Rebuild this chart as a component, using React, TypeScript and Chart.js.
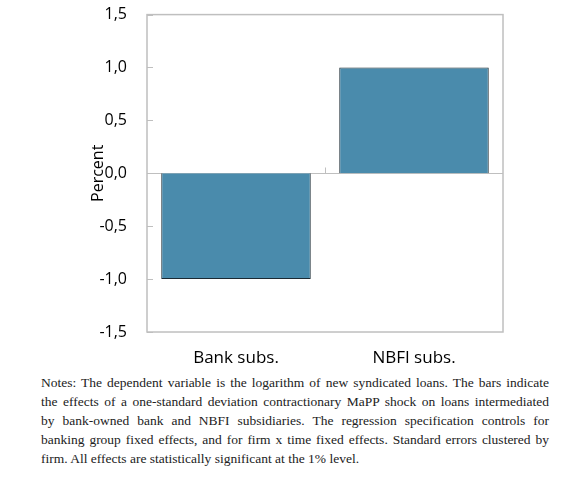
import React, { useEffect, useRef } from "react";
import { Chart, registerables } from "chart.js";

Chart.register(...registerables);

const categories = ["Bank subs.", "NBFI subs."];
const effects = [-1.0, 1.0];
const yTicks = [-1.5, -1.0, -0.5, 0, 0.5, 1.0, 1.5];
const yTitle = "Percent";
const noteLines = [
  "Notes: The dependent variable is the logarithm of new syndicated loans. The bars indicate",
  "the effects of a one-standard deviation contractionary MaPP shock on loans intermediated",
  "by bank-owned bank and NBFI subsidiaries. The regression specification controls for",
  "banking group fixed effects, and for firm x time fixed effects. Standard errors clustered by",
  "firm. All effects are statistically significant at the 1% level.",
];

const GRAY = "#bfbfbf";

const framePlugin = {
  id: "frame",
  beforeDatasetsDraw(chart: any) {
    const { ctx, chartArea, scales } = chart;
    const y = scales.y;
    const x = scales.x;
    ctx.save();
    ctx.strokeStyle = GRAY;
    ctx.lineWidth = 1;
    const y0 = Math.round(y.getPixelForValue(0)) + 0.5;
    ctx.beginPath();
    ctx.moveTo(chartArea.left, y0);
    ctx.lineTo(chartArea.right, y0);
    ctx.stroke();
    yTicks.forEach((v) => {
      const py = Math.round(y.getPixelForValue(v)) + 0.5;
      ctx.beginPath();
      ctx.moveTo(chartArea.left, py);
      ctx.lineTo(chartArea.left + 6, py);
      ctx.stroke();
    });
    const px = Math.round(x.getPixelForValue(0.5)) + 0.5;
    ctx.beginPath();
    ctx.moveTo(px, y0);
    ctx.lineTo(px, y0 - 6);
    ctx.stroke();
    ctx.restore();
  },
  afterDraw(chart: any) {
    const { ctx, chartArea } = chart;
    ctx.save();
    ctx.strokeStyle = GRAY;
    ctx.lineWidth = 1.5;
    ctx.strokeRect(
      chartArea.left,
      chartArea.top,
      chartArea.right - chartArea.left,
      chartArea.bottom - chartArea.top
    );
    ctx.restore();
  },
};

export default function App() {
  const ref = useRef<HTMLCanvasElement | null>(null);

  useEffect(() => {
    if (!ref.current) return;
    const chart = new Chart(ref.current, {
      type: "bar",
      data: {
        labels: categories,
        datasets: [
          {
            data: effects,
            backgroundColor: "#4A8BAC",
            borderColor: "#1b2a33",
            borderWidth: 1,
            categoryPercentage: 1,
            barPercentage: 0.84,
          },
        ],
      },
      options: {
        animation: false,
        responsive: true,
        maintainAspectRatio: false,
        layout: { padding: { left: 0, top: 0, right: 63, bottom: 0 } },
        plugins: {
          legend: { display: false },
          tooltip: { enabled: false },
        },
        scales: {
          x: {
            grid: { display: false, drawTicks: false },
            border: { display: false },
            ticks: {
              color: "#000",
              padding: 16,
              font: { family: "'Open Sans', sans-serif", size: 17 },
            },
            afterFit(scale: any) {
              scale.height = 38;
            },
          },
          y: {
            min: -1.5,
            max: 1.5,
            grid: { display: false, drawTicks: false },
            border: { display: false },
            afterBuildTicks(scale: any) {
              scale.ticks = yTicks.map((v) => ({ value: v }));
            },
            ticks: {
              color: "#000",
              padding: 20,
              font: { family: "'Open Sans', sans-serif", size: 16 },
              callback: (v: any) => Number(v).toFixed(1).replace(".", ","),
            },
            title: {
              display: true,
              text: yTitle,
              color: "#000",
              padding: { top: 89, bottom: 0 },
              font: { family: "'Open Sans', sans-serif", size: 16 },
            },
            afterFit(scale: any) {
              scale.width = 147;
            },
          },
        },
      },
      plugins: [framePlugin],
    });
    return () => chart.destroy();
  }, []);

  return (
    <div style={{ position: "absolute", left: 0, top: 0, width: 566, height: 477, background: "#fff", overflow: "hidden" }}>
      <div style={{ position: "absolute", left: 0, top: -15, width: 566, height: 385 }}>
        <canvas ref={ref} />
      </div>
      <div
        style={{
          position: "absolute",
          left: 41,
          top: 373,
          width: 508,
          fontFamily: "'Liberation Serif', serif",
          fontSize: 13.5,
          lineHeight: "19px",
          color: "#222",
        }}
      >
        {noteLines.map((line, i) => (
          <div
            key={i}
            style={{
              textAlign: i === noteLines.length - 1 ? "left" : "justify",
              textAlignLast: i === noteLines.length - 1 ? "left" : "justify",
            }}
          >
            {line}
          </div>
        ))}
      </div>
    </div>
  );
}
